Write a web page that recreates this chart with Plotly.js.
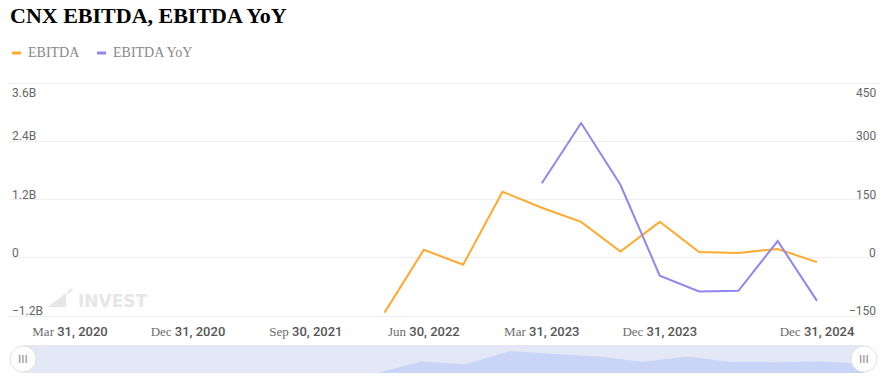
<!DOCTYPE html>
<html>
<head>
<meta charset="utf-8">
<script src="https://cdn.plot.ly/plotly-3.0.1.min.js"></script>
<style>
html,body{margin:0;padding:0;background:#fff;}
#chart{width:891px;height:382px;}
</style>
</head>
<body>
<div id="chart"></div>
<script>
// ---- data ----
const quarters = ['2020-03-31','2020-06-30','2020-09-30','2020-12-31','2021-03-31','2021-06-30','2021-09-30','2021-12-31',
  '2022-03-31','2022-06-30','2022-09-30','2022-12-31','2023-03-31','2023-06-30','2023-09-30','2023-12-31',
  '2024-03-31','2024-06-30','2024-09-30','2024-12-31'];
const ebitda = [null,null,null,null,null,null,null,null,
  -1.13e9, 0.165e9, -0.144e9, 1.36e9, 1.03e9, 0.74e9, 0.13e9, 0.74e9,
  0.12e9, 0.10e9, 0.18e9, -0.09e9];
const ebitdaYoY = [null,null,null,null,null,null,null,null,
  null,null,null,null, 192, 347, 188, -46,
  -87, -85, 43, -111];
const seriesNames = ['EBITDA','EBITDA YoY'];
const xTickVals = ['2020-03-31','2020-12-31','2021-09-30','2022-06-30','2023-03-31','2023-12-31','2024-12-31'];
const xTickMonths = ['Mar','Dec','Sep','Jun','Mar','Dec','Dec'];
const xTickDays = ['31, 2020','31, 2020','30, 2021','30, 2022','31, 2023','31, 2023','31, 2024'];
const leftTickVals = [-1.2e9, 0, 1.2e9, 2.4e9, 3.6e9];
const leftTickText = ['\u22121.2B','0','1.2B','2.4B','3.6B'];
const rightTickVals = [-150, 0, 150, 300, 450];
const rightTickText = ['\u2212150','0','150','300','450'];
const titleText = 'CNX EBITDA, EBITDA YoY';

// ---- styling ----
const W = 891, H = 382;
const M = {l:10, r:13, t:80, b:9};
const PW = W - M.l - M.r, PH = H - M.t - M.b;
const px = x => (x - M.l) / PW;
const py = y => (H - M.b - y) / PH;
const cOrange = '#ffa92e', cPurple = '#8f87ef';
const serif = 'Liberation Serif, Times New Roman, serif';
const sans = 'Roboto, Arial, sans-serif';

// axis padding so edge gridlines are drawn (3px on each side of a 233px span)
const padFrac = 3 / 233;
const lRange = [leftTickVals[0], leftTickVals[leftTickVals.length - 1]];
const rRange = [rightTickVals[0], rightTickVals[rightTickVals.length - 1]];
const lPad = (lRange[1] - lRange[0]) * padFrac;
const rPad = (rRange[1] - rRange[0]) * padFrac;

const xTickText = xTickVals.map((v, i) =>
  '<span style="font-family:Liberation Serif;font-weight:400;color:#6b6b6b">' + xTickMonths[i] + '</span> ' + xTickDays[i]);

const sliderMin = Math.min(...ebitda.filter(v => v !== null));
const sliderMax = Math.max(...ebitda.filter(v => v !== null));
const sliderVals = ebitda.map(v => v === null ? null : v - sliderMin);

const traces = [
  {x: quarters, y: ebitda, name: seriesNames[0], type: 'scatter', mode: 'lines',
   line: {color: cOrange, width: 2}, xaxis: 'x', yaxis: 'y', showlegend: false},
  {x: quarters, y: ebitdaYoY, name: seriesNames[1], type: 'scatter', mode: 'lines',
   line: {color: cPurple, width: 2}, xaxis: 'x', yaxis: 'y2', showlegend: false},
  {x: quarters, y: sliderVals, type: 'scatter', mode: 'lines', fill: 'tozeroy',
   fillcolor: '#c9d5f7', line: {width: 0, color: '#c9d5f7'}, xaxis: 'x2', yaxis: 'y3',
   hoverinfo: 'skip', showlegend: false}
];

const annotations = [];
leftTickVals.forEach((v, i) => {
  const top = i === leftTickVals.length - 1;
  annotations.push({text: leftTickText[i], xref: 'paper', yref: 'y', x: 0, y: v,
    xanchor: 'left', yanchor: top ? 'top' : 'bottom', yshift: top ? -1 : -4, xshift: 0,
    showarrow: false, font: {family: sans, size: 12, color: '#666'}});
});
rightTickVals.forEach((v, i) => {
  const top = i === rightTickVals.length - 1;
  annotations.push({text: rightTickText[i], xref: 'paper', yref: 'y2', x: 1, y: v,
    xanchor: 'right', yanchor: top ? 'top' : 'bottom', yshift: top ? -1 : -4, xshift: 0,
    showarrow: false, font: {family: sans, size: 12, color: '#666'}});
});
// legend
annotations.push({text: seriesNames[0], xref: 'paper', yref: 'paper', x: px(26), y: py(53),
  xanchor: 'left', yanchor: 'middle', showarrow: false, font: {family: serif, size: 14, color: '#888'}});
annotations.push({text: seriesNames[1], xref: 'paper', yref: 'paper', x: px(111), y: py(53),
  xanchor: 'left', yanchor: 'middle', showarrow: false, font: {family: serif, size: 14, color: '#888'}});
// watermark
annotations.push({text: 'INVEST', xref: 'paper', yref: 'paper', x: px(76), y: py(301),
  xanchor: 'left', yanchor: 'middle', showarrow: false,
  font: {family: 'DejaVu Sans', size: 17, color: '#e6e6e6', weight: 700}});
// slider handle grips
[0, 1].forEach(d => {
  annotations.push({text: 'III', xref: 'x2 domain', yref: 'y3 domain', x: d, y: 0.5,
    xanchor: 'center', yanchor: 'middle', showarrow: false,
    font: {family: 'DejaVu Sans', size: 11, color: '#8a8a8a'}});
});

const shapes = [
  {type: 'line', xref: 'paper', yref: 'paper', x0: px(12), x1: px(21), y0: py(53), y1: py(53),
   line: {color: cOrange, width: 3}},
  {type: 'line', xref: 'paper', yref: 'paper', x0: px(97), x1: px(106), y0: py(53), y1: py(53),
   line: {color: cPurple, width: 3}},
  {type: 'rect', xref: 'x2 domain', yref: 'y3 domain', x0: 0, x1: 1, y0: 0, y1: 1,
   fillcolor: '#e4e8f6', line: {width: 0}, layer: 'below'},
  {type: 'path', xref: 'paper', yref: 'paper', layer: 'below', fillcolor: '#e6e6e6', line: {width: 0},
   path: `M${px(48)},${py(307)} L${px(66)},${py(293)} L${px(66)},${py(307)} Z M${px(66)},${py(293)} L${px(72)},${py(288)} L${px(73)},${py(290)} L${px(68)},${py(294)} Z`},
];
[0, 1].forEach(d => {
  shapes.push({type: 'circle', xref: 'x2 domain', yref: 'y3 domain', xsizemode: 'pixel', ysizemode: 'pixel',
    xanchor: d, yanchor: 0.5, x0: -13, x1: 13, y0: -13, y1: 13,
    fillcolor: '#ffffff', line: {color: '#e2e2e2', width: 1}});
});

const layout = {
  width: W, height: H,
  margin: M,
  paper_bgcolor: '#fff', plot_bgcolor: 'rgba(0,0,0,0)',
  showlegend: false,
  title: {text: '<b>' + titleText + '</b>', xref: 'container', yref: 'container',
    x: 10 / W, xanchor: 'left', y: 1 - 8 / H, yanchor: 'top',
    font: {family: serif, size: 22, color: '#000'}},
  xaxis: {type: 'category', categoryorder: 'array', categoryarray: quarters,
    range: [-1.526, 20.551], domain: [0, 1], anchor: 'y',
    tickmode: 'array', tickvals: xTickVals, ticktext: xTickText,
    showgrid: false, zeroline: false, showline: false, ticks: '', ticklabelstandoff: 3,
    tickfont: {family: sans, size: 13, color: '#555', weight: 500}, fixedrange: true},
  yaxis: {domain: [py(319), 1], range: [lRange[0] - lPad, lRange[1] + lPad], tickmode: 'array', tickvals: leftTickVals,
    showticklabels: false, showgrid: true, gridcolor: '#eeeeee', gridwidth: 1,
    zeroline: false, showline: false, ticks: '', fixedrange: true},
  yaxis2: {overlaying: 'y', side: 'right', range: [rRange[0] - rPad, rRange[1] + rPad], showgrid: false,
    showticklabels: false, zeroline: false, showline: false, ticks: '', fixedrange: true},
  xaxis2: {type: 'category', categoryorder: 'array', categoryarray: quarters, anchor: 'y3',
    domain: [px(23), px(864)], range: [0, 19], visible: false, fixedrange: true},
  yaxis3: {domain: [0, py(345)], range: [0, (sliderMax - sliderMin) * 28 / 22], anchor: 'x2',
    visible: false, fixedrange: true},
  annotations: annotations,
  shapes: shapes
};

Plotly.newPlot('chart', traces, layout, {displayModeBar: false, staticPlot: true});
</script>
</body>
</html>
